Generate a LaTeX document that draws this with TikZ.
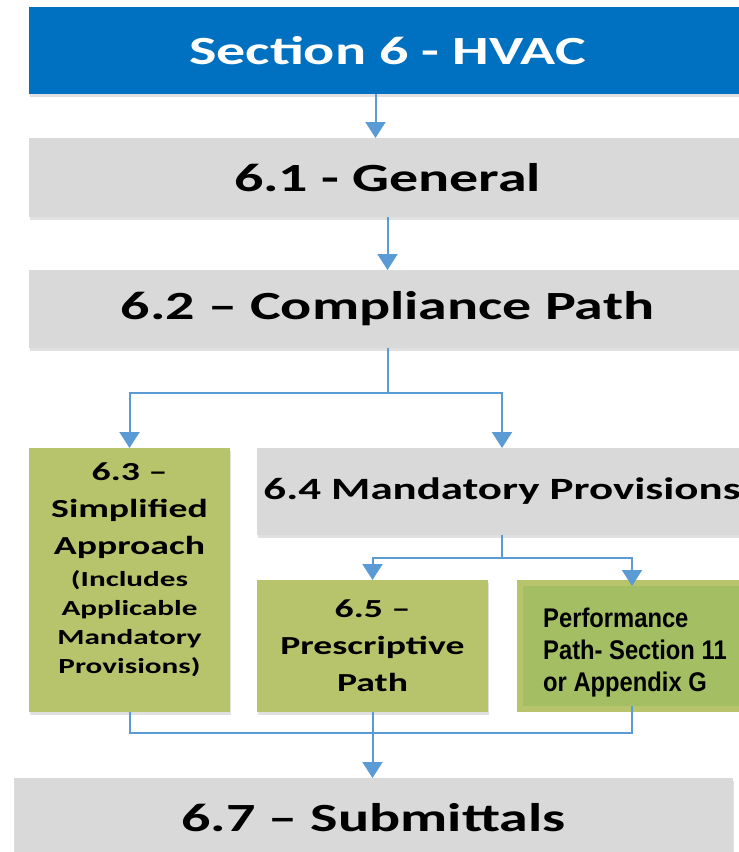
\documentclass[tikz,border=0pt]{standalone}
\usepackage{fontspec}
\usetikzlibrary{shapes, arrows.meta, positioning, shadows}
\newfontfamily\boxfont[FakeStretch=1.45]{Carlito}
\newfontfamily\perffont[FakeStretch=0.88]{Liberation Sans}
\newcommand{\finetext}{\fontsize{21.5}{29}\selectfont}
\definecolor{headblue}{HTML}{0070C0}
\definecolor{boxgray}{HTML}{D9D9D9}
\definecolor{boxgreen}{HTML}{B8C46B}
\definecolor{perfgreen}{HTML}{A4BF63}
\definecolor{linkblue}{HTML}{5B9BD5}
\tikzstyle{base} = [rectangle, anchor=north west, inner sep=0pt, outer sep=0pt, text centered, align=center, drop shadow={shadow xshift=1pt, shadow yshift=-3pt, opacity=0.3, fill=black!40}]
\tikzstyle{header} = [base, fill=headblue, text=white]
\tikzstyle{section} = [base, fill=boxgray, text=black]
\tikzstyle{option} = [base, fill=boxgreen, text=black]
\tikzstyle{large} = [font=\boxfont\bfseries\fontsize{40}{48}\selectfont]
\tikzstyle{medium} = [font=\boxfont\bfseries\fontsize{31}{37}\selectfont]
\tikzstyle{small} = [font=\boxfont\bfseries\fontsize{26}{37}\selectfont]
\tikzstyle{edge} = [draw=linkblue, line width=2pt, -{Triangle[width=20pt, length=16pt]}]
\tikzstyle{link} = [draw=linkblue, line width=2pt]

\begin{document}
\begin{tikzpicture}[x=1pt, y=-1pt]
\useasboundingbox (0,0) rectangle (739,852);
\clip (0,0) rectangle (739,852);

\node (sec6) [header, large, minimum width=717, minimum height=87] at (29,7) {Section 6 - HVAC};
\node (gen) [section, large, minimum width=717, minimum height=79] at (29,138) {6.1 - General};
\node (path) [section, large, minimum width=717, minimum height=78] at (29,270) {6.2 – Compliance Path};
\node (simp) [option, minimum width=201, minimum height=264] at (29,448) {};
\node (simptext) [below=15pt of simp.north, small, align=center, inner sep=0pt] {6.3 –\\ Simplified\\ Approach\\[-5pt] {\finetext (Includes}\\[-8pt] {\finetext Applicable}\\[-8pt] {\finetext Mandatory}\\[-8pt] {\finetext Provisions)}};
\node (mand) [section, medium, minimum width=490, minimum height=87] at (257,448) {6.4 Mandatory Provisions};
\node (presc) [option, small, minimum width=231, minimum height=132] at (257,580) {6.5 –\\ Prescriptive\\ Path};
\node (perf) [option, fill=perfgreen, draw=boxgreen, line width=6pt, minimum width=224, minimum height=126] at (520,583) {};
\node (perftext) [right=23pt of perf.west, yshift=-7pt, font=\perffont\bfseries\fontsize{27}{32}\selectfont, align=left, inner sep=0pt] {Performance\\ Path- Section 11\\ or Appendix G};
\node (subm) [section, large, minimum width=719, minimum height=80] at (14,778) {6.7 – Submittals};

\draw [edge] ([xshift=-12pt]sec6.south) -- ([xshift=-12pt]gen.north);
\draw [edge] (gen.south) -- (path.north);
\draw [edge] (path.south) -- ++(0,45) -| (simp.north);
\draw [edge] (path.south) -- ++(0,45) -| (mand.north);
\draw [edge] (mand.south) -- ++(0,23) -| (presc.north);
\draw [edge] (mand.south) -- ++(0,23) -| ([yshift=-3pt]perf.north);
\draw [link] (simp.south) -- ++(0,21) -| ([yshift=3pt]perf.south);
\draw [edge] (presc.south) -- (presc.south |- subm.north);

\end{tikzpicture}
\end{document}
